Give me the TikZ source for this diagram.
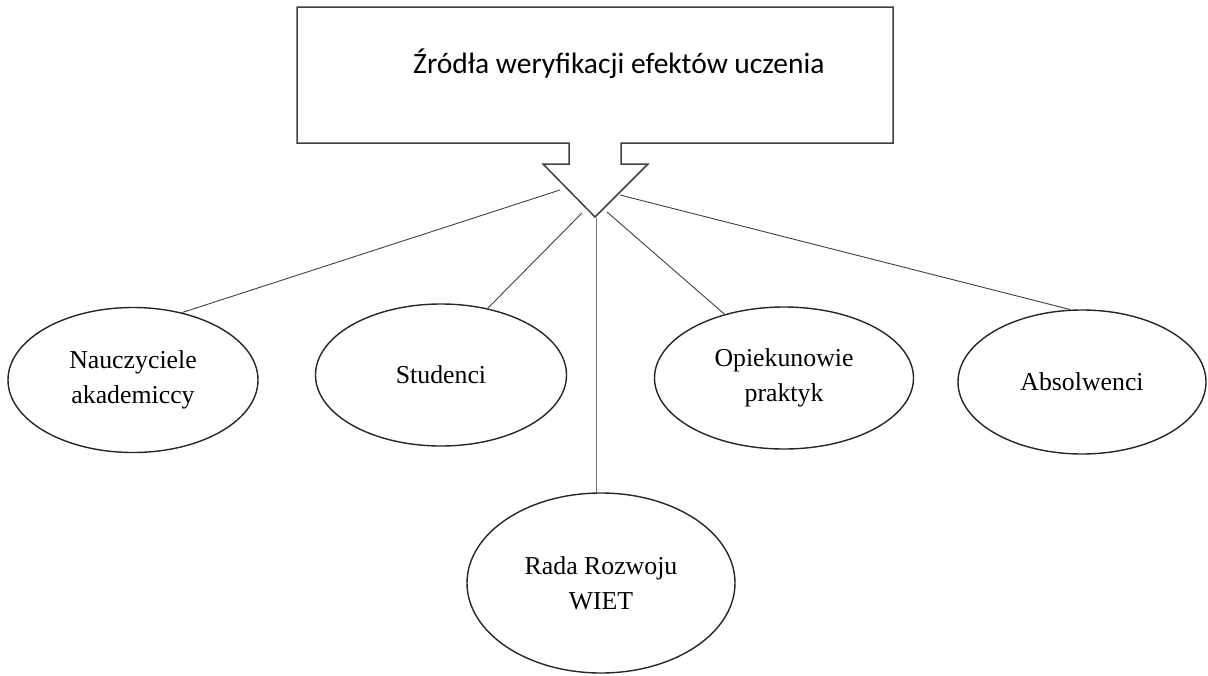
\documentclass[tikz,border=0pt]{standalone}
\usepackage{fontspec}
\setmainfont{Liberation Serif}
\newfontfamily\titlefont{Carlito}
\usetikzlibrary{shapes.geometric}
\begin{document}
\begin{tikzpicture}[x=1pt,y=-1pt,
  oval/.style={draw=black!85, line width=1.4pt, ellipse, inner sep=0pt, align=center,
               font=\fontsize{25.8}{35}\selectfont},
  link/.style={draw=black!75, line width=0.9pt},
  vlink/.style={draw=black!55, line width=0.9pt},
  callout/.style={draw=black!75, line width=1.5pt, line join=miter}]
\useasboundingbox (0,0) rectangle (1208,675);
% callout box with downward arrow
\draw[callout] (297,7) -- (893,7) -- (893,143) -- (621,143) -- (621,164) -- (648,164)
  -- (595,217) -- (543,164) -- (569,164) -- (569,143) -- (297,143) -- cycle;
\node[anchor=base west, inner sep=0pt, font=\titlefont\fontsize{29.5}{34}\selectfont]
  (title) at (413,73) {Źródła weryfikacji efektów uczenia};
% start points of connectors around the arrow tip
\coordinate (s1) at (560,190);
\coordinate (s2) at (582,213);
\coordinate (s3) at (596,218);
\coordinate (s4) at (607,212);
\coordinate (s5) at (620,195);
% ellipses
\node[oval, minimum width=250pt, minimum height=145pt] (n1) at (133,380) {Nauczyciele\\akademiccy};
\node[oval, minimum width=251pt, minimum height=142pt] (n2) at (441,375) {Studenci};
\node[oval, minimum width=268pt, minimum height=180pt] (n5) at (601,583) {Rada Rozwoju\\WIET};
\node[oval, minimum width=259pt, minimum height=142pt] (n3) at (784,378) {Opiekunowie\\praktyk};
\node[oval, minimum width=248pt, minimum height=144pt] (n4) at (1082,382) {Absolwenci};
% connectors
\draw[link] (s1) -- (n1.54);
\draw[link] (s2) -- (n2.55);
\draw[vlink] (s3) -- (s3 |- n5.north);
\draw[link] (s4) -- (n3.133);
\draw[link] (s5) -- (n4.99);
\end{tikzpicture}
\end{document}
